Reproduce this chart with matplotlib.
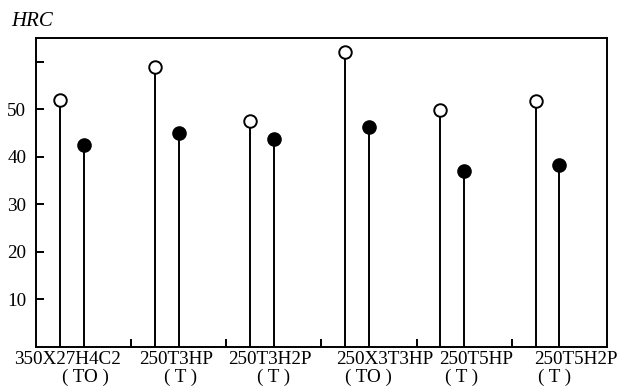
import numpy as np
import matplotlib
matplotlib.use('Agg')
import matplotlib.pyplot as plt
from matplotlib.transforms import blended_transform_factory

# hardness values, open = first state, filled = second state
steels = ['350X27H4C2', '250T3HP', '250T3H2P', '250X3T3HP', '250T5HP', '250T5H2P']
treatment = ['TO', 'T', 'T', 'TO', 'T', 'T']
hrc_open = [52.0, 58.8, 47.5, 62.0, 49.9, 51.8]
hrc_filled = [42.4, 45.0, 43.8, 46.2, 37.0, 38.2]
y_ticks = [10, 20, 30, 40, 50, 60]
y_ticklabels = ['10', '20', '30', '40', '50', '']

# label x offsets from each group (the two text lines are not aligned in the source)
name_offset = [0.08, 0.22, 0.21, 0.41, 0.38, 0.42]
treat_offset = [0.27, 0.27, 0.25, 0.24, 0.22, 0.20]

plt.rcParams['font.family'] = 'Liberation Serif'
plt.rcParams['font.size'] = 13.8

fig = plt.figure(figsize=(6.23, 3.92), dpi=100)
ax = fig.add_axes([0.0578, 0.1148, 0.9165, 0.7882])

x = np.arange(len(steels))
x_open = x
x_filled = x + 0.25

lw = 1.4
ax.vlines(x_open, 0, hrc_open, color='black', lw=lw)
ax.vlines(x_filled, 0, hrc_filled, color='black', lw=lw)
ax.plot(x_open, hrc_open, 'o', ms=9, mfc='white', mec='black', mew=1.4, zorder=3)
ax.plot(x_filled, hrc_filled, 'o', ms=9.5, mfc='black', mec='black', zorder=3)

ax.set_xlim(-0.25, 5.75)
ax.set_ylim(0, 65)
ax.set_yticks(y_ticks)
ax.set_yticklabels(y_ticklabels)
ax.set_xticks(x[:-1] + 0.75)
ax.set_xticklabels([])
ax.tick_params(direction='in', length=5.5, width=1.4, pad=7)

for s in ax.spines.values():
    s.set_linewidth(1.4)

trans = blended_transform_factory(ax.transData, ax.transAxes)
for i in range(len(steels)):
    ax.text(i + name_offset[i], -0.039, steels[i], transform=trans,
            ha='center', va='center', clip_on=False)
    ax.text(i + treat_offset[i], -0.099, '( ' + treatment[i] + ' )', transform=trans,
            ha='center', va='center', clip_on=False)

ax.text(-0.007, 1.052, 'HRC', transform=ax.transAxes, style='italic',
        fontsize=15, ha='center', va='center')

fig.savefig('out.png', dpi=100)
